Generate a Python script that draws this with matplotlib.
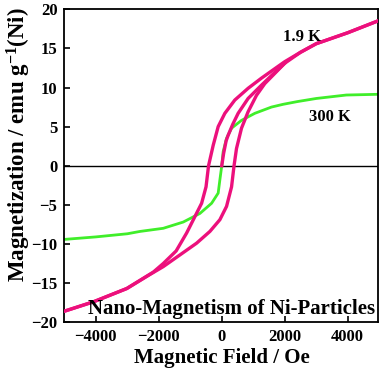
import matplotlib
matplotlib.use("Agg")
import matplotlib.pyplot as plt

# 1.9 K: descending-field branch (from +H to -H)
upper_H = [4950, 4000, 3000, 2500, 2000, 1788, 1262, 837, 415, 98, -114, -273, -420,
           -500, -640, -853, -1116, -1450, -1858, -2175, -3018, -4077, -5000]
upper_M = [18.5, 17.0, 15.6, 14.5, 13.3, 12.7, 11.2, 9.9, 8.4, 6.7, 5.0, 2.6, 0.0,
           -2.7, -4.8, -6.5, -8.6, -10.9, -12.5, -13.6, -15.7, -17.4, -18.6]
# 1.9 K: ascending-field branch (from -H to +H)
lower_H = [-5000, -4077, -3018, -2280, -1858, -1328, -799, -377, -60, 152, 311, 390,
           468, 627, 837, 1103, 1367, 1684, 2000, 2500, 3000, 4000, 4950]
lower_M = [-18.6, -17.4, -15.7, -13.9, -12.9, -11.4, -9.9, -8.4, -6.9, -5.2, -2.7, 0.0,
           2.2, 4.8, 6.9, 9.0, 10.5, 11.8, 13.1, 14.5, 15.6, 17.0, 18.5]
# 1.9 K: initial magnetization curve
virgin_H = [0, 60, 140, 203, 350, 520, 837, 1262, 1650, 2000]
virgin_M = [0.0, 1.6, 3.2, 3.9, 5.3, 6.7, 8.6, 10.3, 11.8, 13.1]
# 300 K
rt_H = [-5000, -4000, -3000, -2597, -1858, -1224, -694, -323, -114, -60, 0,
        44, 152, 311, 627, 1050, 1579, 1947, 2400, 3005, 3957, 4950]
rt_M = [-9.42, -9.1, -8.7, -8.4, -8.0, -7.2, -6.1, -4.8, -3.5, -1.8, 0.0,
        1.8, 3.5, 4.8, 5.8, 6.7, 7.5, 7.85, 8.2, 8.6, 9.04, 9.13]

xticks = [-4000, -2000, 0, 2000, 4000]
yticks = [-20, -15, -10, -5, 0, 5, 10, 15, 20]

plt.rcParams['font.family'] = ['Liberation Serif', 'DejaVu Serif']
plt.rcParams['font.weight'] = 'bold'
plt.rcParams['mathtext.fontset'] = 'custom'
plt.rcParams['mathtext.rm'] = 'Liberation Serif:bold'
plt.rcParams['mathtext.default'] = 'rm'

pink = '#EC107C'
green = '#40EE2A'

fig = plt.figure(figsize=(3.81, 3.72), dpi=100)
ax = fig.add_axes([0.169, 0.134, 0.822, 0.841])

ax.axhline(0, color='black', lw=1.0, zorder=1)
ax.plot(rt_H, rt_M, color=green, lw=2.0, zorder=2)
ax.plot(lower_H, lower_M, color=pink, lw=2.4, zorder=3, solid_joinstyle='round')
ax.plot(upper_H, upper_M, color=pink, lw=2.4, zorder=3, solid_joinstyle='round')
ax.plot(virgin_H, virgin_M, color=pink, lw=2.4, zorder=3, solid_joinstyle='round')

ax.set_xlim(-5000, 4950)
ax.set_ylim(-20, 20)
ax.set_xticks(xticks)
ax.set_yticks(yticks)
ax.tick_params(direction='in', length=4, width=1.2, labelsize=12, pad=5)
for s in ax.spines.values():
    s.set_linewidth(1.3)

ax.set_xlabel('Magnetic Field / Oe', fontsize=15, fontweight='bold')
ax.set_ylabel('Magnetization / emu g$^{-1}$(Ni)', fontsize=16.5, fontweight='bold')
ax.xaxis.set_label_coords(0.503, -0.083)
ax.yaxis.set_label_coords(-0.10, 0.569)

ax.text(0.9936, 0.0246, 'Nano-Magnetism of Ni-Particles', transform=ax.transAxes,
        ha='right', va='baseline', fontsize=15, fontweight='bold')
ax.text(0.76, 0.912, '1.9 K', transform=ax.transAxes, ha='center', va='center',
        fontsize=12, fontweight='bold')
ax.text(0.848, 0.657, '300 K', transform=ax.transAxes, ha='center', va='center',
        fontsize=12, fontweight='bold')

fig.savefig('out.png', dpi=100)
